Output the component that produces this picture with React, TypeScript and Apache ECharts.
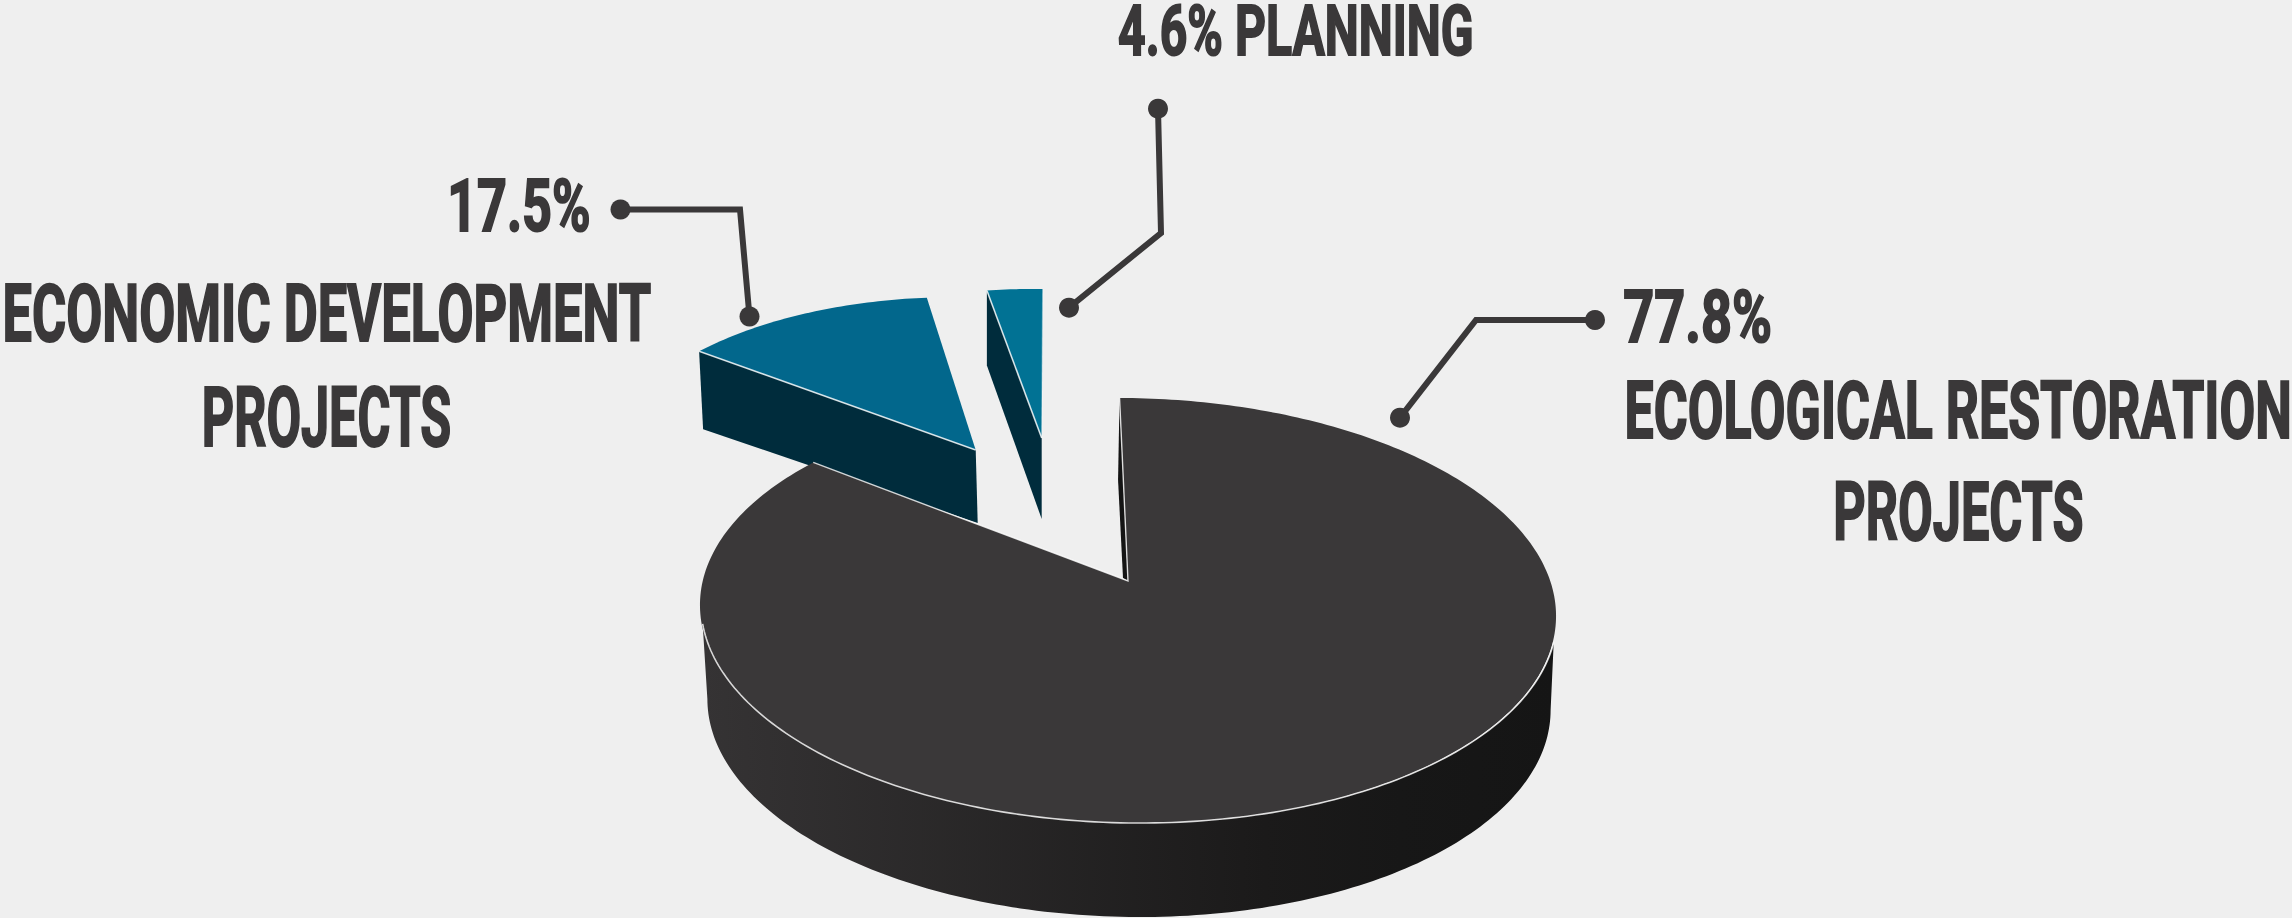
import React, { useEffect, useRef } from "react";
import * as echarts from "echarts";

// Printed labels
const categories = ["Ecological Restoration Projects", "Economic Development Projects", "Planning"];
const printedPercent = [77.8, 17.5, 4.6];
// Slices as actually drawn in the picture (their sweep differs from the printed shares)
const drawnStartDeg = [-1.3, -55, -10.4];
const drawnSweepDeg = [307.8, 46, 10.6];
const drawOrder = [1, 2, 0];

const W = 2292, H = 918;
const TEXT = "#3a3839";
const FONT = 'Roboto, "Liberation Sans", sans-serif';

// perspective of the disc
const cx = 1129, A = 423.9, a = 127.75, b = 581, c = -0.1388, shear = 0.0128;
const rad = (d: number) => (d * Math.PI) / 180;
function rim(deg: number): number[] {
  const X = Math.sin(rad(deg)), Y = -Math.cos(rad(deg));
  const w = 1 + c * Y;
  const x = cx + (A * X) / w;
  const y = (a * Y + b) / w + shear * (x - cx);
  return [x, y];
}
const sliceStyle: any[] = [
  { apex: [1128, 581], s: [1, 1], top: "#3a3839", wall: "#141414" },
  { apex: [975.7, 450], s: [0.86, 0.838], top: "#02678c", wall: "#002c3c", low: [4, 78], lowApex: [2, 73] },
  { apex: [1041.7, 438], s: [0.814, 0.814], top: "#017294", wall: "#002c3c", low: [0, 75], lowApex: [0, 81], faint: true },
];
const EDGE = "rgba(255,255,255,0.8)";

function renderSlice(params: any, api: any) {
  const i = api.value(0) as number;
  const start = api.value(1) as number;
  const sweep = api.value(2) as number;
  const st = sliceStyle[i];
  const main = [cx, b];
  const arc: number[][] = [];
  const n = Math.max(12, Math.round(sweep));
  for (let k = 0; k <= n; k++) {
    const t = k / n;
    const r = rim(start + sweep * t);
    const s = st.s[0] + (st.s[1] - st.s[0]) * t;
    arc.push([st.apex[0] + s * (r[0] - main[0]), st.apex[1] + s * (r[1] - main[1])]);
  }
  const first = arc[0], last = arc[arc.length - 1];
  const children: any[] = [];
  if (i === 0) {
    // outer wall
    const front: number[][] = [], base: number[][] = [];
    for (let d = 105; d <= 257; d += 1) front.push(rim(d));
    for (let d = 262; d >= 98; d -= 1) {
      const p = rim(d);
      base.push([cx + (p[0] - cx) * 0.985, p[1] + 94]);
    }
    children.push({
      type: "polygon",
      shape: { points: front.concat(base) },
      style: {
        fill: new echarts.graphic.LinearGradient(0, 0, 1, 0, [
          { offset: 0, color: "#353334" },
          { offset: 0.66, color: "#1b1a1a" },
          { offset: 0.82, color: "#171717" },
          { offset: 1, color: "#151515" },
        ]),
      },
    });
    // inner wall seen through the gap
    children.push({
      type: "polygon",
      shape: { points: [first, st.apex, [st.apex[0] - 5, st.apex[1] - 3], [first[0] - 1.5, first[1] + 82]] },
      style: { fill: st.wall },
    });
  } else {
    children.push({
      type: "polygon",
      shape: {
        points: [
          first,
          st.apex,
          [st.apex[0] + st.lowApex[0], st.apex[1] + st.lowApex[1]],
          [first[0] + st.low[0], first[1] + st.low[1]],
        ],
      },
      style: { fill: st.wall },
    });
  }
  children.push({
    type: "polygon",
    shape: { points: arc.concat([st.apex]) },
    style: { fill: st.top },
  });
  if (i === 0) {
    const front: number[][] = [];
    for (let d = 105; d <= 257; d += 1) front.push(rim(d));
    children.push({ type: "polyline", shape: { points: front }, style: { stroke: EDGE, lineWidth: 1.6, fill: "none" } });
    children.push({ type: "polyline", shape: { points: [last, st.apex, first] }, style: { stroke: EDGE, lineWidth: 1.4, fill: "none" } });
  } else {
    children.push({ type: "polyline", shape: { points: [first, st.apex] }, style: { stroke: EDGE, lineWidth: 1.6, fill: "none" } });
    if (st.faint) {
      children.push({ type: "polyline", shape: { points: [last, st.apex] }, style: { stroke: "rgba(255,255,255,0.35)", lineWidth: 1.4, fill: "none" } });
    }
  }
  return { type: "group", children };
}

const measure = document.createElement("canvas").getContext("2d")!;
function fitText(text: string, x0: number, x1: number, y0: number, y1: number) {
  const grow = 0.8;
  // real size from the cap height, squeezed only sideways
  measure.font = `bold 100px ${FONT}`;
  measure.textBaseline = "middle";
  measure.textAlign = "left";
  const m100 = measure.measureText(text);
  const fontSize = ((y1 - y0 - 2 * grow) / (m100.actualBoundingBoxAscent + m100.actualBoundingBoxDescent)) * 100;
  measure.font = `bold ${fontSize}px ${FONT}`;
  const m = measure.measureText(text);
  const sx = (x1 - x0 - 2 * grow) / (m.actualBoundingBoxLeft + m.actualBoundingBoxRight);
  const yc = (y0 + y1) / 2 - (m.actualBoundingBoxDescent - m.actualBoundingBoxAscent) / 2 - 6;
  return {
    type: "text",
    x: x0 + grow + m.actualBoundingBoxLeft * sx,
    y: yc,
    scaleX: sx,
    style: {
      text,
      fontSize,
      lineHeight: fontSize * 0.8,
      fontWeight: "bold",
      fontFamily: FONT,
      fill: TEXT,
      stroke: TEXT,
      lineWidth: 2,
      align: "left",
      verticalAlign: "middle",
    },
  };
}

function leader(points: number[][]) {
  const s = points[0], e = points[points.length - 1];
  return [
    { type: "polyline", shape: { points }, style: { stroke: TEXT, lineWidth: 6, fill: "none", lineJoin: "miter" } },
    { type: "circle", shape: { cx: s[0], cy: s[1], r: 10 }, style: { fill: TEXT } },
    { type: "circle", shape: { cx: e[0], cy: e[1], r: 10 }, style: { fill: TEXT } },
  ];
}

export default function App() {
  const ref = useRef<HTMLDivElement>(null);
  useEffect(() => {
    document.body.style.margin = "0";
    document.body.style.background = "#efefef";
    const chart = echarts.init(ref.current!, undefined, { renderer: "svg" });
    const pct = printedPercent.map((v) => v.toFixed(1) + "%");
    chart.setOption({
      animation: false,
      backgroundColor: "#efefef",
      series: [
        {
          type: "custom",
          coordinateSystem: "none",
          silent: true,
          renderItem: renderSlice,
          data: drawOrder.map((i) => ({ name: categories[i], value: [i, drawnStartDeg[i], drawnSweepDeg[i]] })),
        },
      ],
      graphic: {
        elements: [
          ...leader([[620.5, 209.5], [740, 209.5], [749.5, 316.5]]),
          ...leader([[1158, 108.7], [1161, 233], [1069, 307.7]]),
          ...leader([[1595, 320], [1476, 320], [1400, 417.7]]),
          fitText(pct[1], 450, 589, 177, 231),
          fitText("ECONOMIC DEVELOPMENT", 5, 651, 281, 342),
          fitText("PROJECTS", 204, 451, 383, 446),
          fitText(`${pct[2]} PLANNING`, 1118, 1472, 3, 57),
          fitText(pct[0], 1624, 1771, 288, 343),
          fitText("ECOLOGICAL RESTORATION", 1627, 2290, 377, 438),
          fitText("PROJECTS", 1835.5, 2083, 479, 541),
        ],
      },
    });
    return () => chart.dispose();
  }, []);
  return <div ref={ref} style={{ width: W, height: H, overflow: "hidden" }} />;
}
